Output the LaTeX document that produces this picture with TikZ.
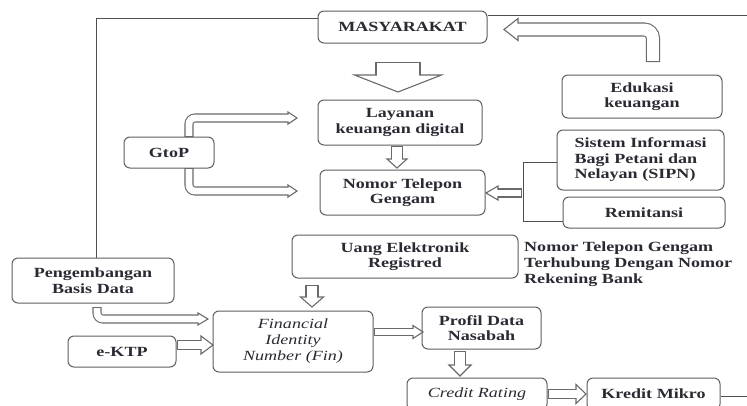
\documentclass[tikz,border=0pt]{standalone}
\usepackage{fontspec}
\setmainfont{Liberation Serif}[FakeStretch=1.29,
  UprightFont=*, BoldFont=* Bold, ItalicFont=* Italic, BoldItalicFont=* Bold Italic]
\usetikzlibrary{calc}
\definecolor{bordc}{HTML}{5F5F5F}
\definecolor{arrc}{HTML}{6A6A6A}
\definecolor{linec}{HTML}{505050}
\definecolor{txtc}{HTML}{2A2A33}
\newcommand{\harrow}[6]{%
  \pgfmathsetmacro\harO{#4+1.1}%
  \pgfmathsetmacro\harI{#4-1.1}%
  \filldraw[fill=white,draw=arrc,line width=1.1pt,line join=miter] ($#2!#5pt!90:#3$) -- #3 -- ($#2!#5pt!-90:#3$) -- cycle;
  \draw[arrc,line width=\harO pt,rounded corners=#6pt] #1;
  \draw[white,line width=\harI pt,rounded corners=#6pt,shorten <=1.1pt,shorten >=-1.6pt] #1;
}
\tikzset{
  box/.style={draw=bordc, line width=1pt, rounded corners=6pt, align=center, inner sep=0pt,
    text=txtc, font=\fontsize{14}{15.5}\selectfont\bfseries},
  itbox/.style={box, font=\fontsize{14}{16}\selectfont\mdseries\itshape},
  conn/.style={draw=linec, line width=1pt}
}
\begin{document}
\begin{tikzpicture}[x=1pt,y=-1pt]
\useasboundingbox (0,0) rectangle (747,405);
\clip (0,0) rectangle (747,405);
\fill[white] (0,0) rectangle (747,405);

% boxes
\node[box, minimum width=169pt, minimum height=32pt] (masy) at (402.5,27) {MASYARAKAT};
\node[box, minimum width=164pt, minimum height=45pt] (layanan) at (400,122.5) {Layanan\\keuangan digital};
\node[box, minimum width=90pt, minimum height=31pt] (gtop) at (169,152.5) {GtoP};
\node[box, minimum width=165pt, minimum height=45pt] (nomor) at (402.5,192.5) {Nomor Telepon\\Gengam};
\node[box, minimum width=160pt, minimum height=43pt] (edukasi) at (642,96.5) {Edukasi\\keuangan};
\node[box, minimum width=167pt, minimum height=60pt, text width=132pt, align=left] (sipn) at (640.5,160)
  {\makebox[132pt][s]{Sistem Informasi}\\\makebox[132pt][s]{Bagi Petani dan}\\Nelayan (SIPN)};
\node[box, minimum width=162pt, minimum height=31pt] (remit) at (644,212.5) {Remitansi};
\node[box, minimum width=226pt, minimum height=43pt] (uang) at (405,256.5) {Uang Elektronik\\Registred};
\node[anchor=north west, align=left, inner sep=0pt, text=txtc, font=\fontsize{14}{16}\selectfont\bfseries] (note) at (524,242)
  {Nomor Telepon Gengam\\Terhubung Dengan Nomor\\Rekening Bank};
\node[box, minimum width=162pt, minimum height=45pt] (peng) at (93,280.5) {Pengembangan\\Basis Data};
\node[itbox, minimum width=160pt, minimum height=61pt] (fin) at (293,341.5) {Financial\\Identity\\Number (Fin)};
\node[box, minimum width=108pt, minimum height=31pt] (ektp) at (122,351.5) {e-KTP};
\node[box, minimum width=119pt, minimum height=42pt] (profil) at (481.5,328) {Profil Data\\Nasabah};
\node[itbox, minimum width=140pt, minimum height=32pt] (credit) at (477,394) {Credit Rating};
\node[box, minimum width=133pt, minimum height=32pt] (kredit) at (653.5,394) {Kredit Mikro};

% plain connectors
\coordinate (tl) at (96,18);
\coordinate (re) at (750,15);
\coordinate (ke) at (750,396);
\coordinate (b1) at (523,162);
\coordinate (b2) at (523,221);
\draw[conn] ([yshift=9pt]masy.west) -- (tl) -- (tl |- peng.north);
\draw[conn] ([yshift=12pt]masy.east) -- (re);
\draw[conn] (kredit.east |- ke) -- (ke);
\draw[conn] (sipn.west |- b1) -- (b1) -- (b2) -- (remit.west |- b2);

% hollow arrows
\harrow{(398,62) -- (398,75)}{(398,75)}{(398,92)}{44}{43.5}{1}
\harrow{(653,62) -- (653,29.5) -- (518,29.5)}{(518,29.5)}{(504,29.5)}{13}{11}{9}
\harrow{(189,137) -- (189,118) -- (288,118)}{(288,118)}{(297,118)}{8}{6}{6}
\harrow{(189,168) -- (189,191) -- (288,191)}{(288,191)}{(297,191)}{8}{6}{6}
\harrow{(397,146) -- (397,159)}{(397,159)}{(397,168)}{11}{10}{1}
\harrow{(522,193) -- (498,193)}{(498,193)}{(486,193)}{8}{7}{1}
\harrow{(312,285) -- (312,297)}{(312,297)}{(312,307)}{12}{11.5}{1}
\harrow{(97,307) -- (97,319) -- (198,319)}{(198,319)}{(208,319)}{8}{6}{6}
\harrow{(177,345) -- (201,345)}{(201,345)}{(213,345)}{9}{9}{1}
\harrow{(374,332) -- (413,332)}{(413,332)}{(423,332)}{7}{6.5}{1}
\harrow{(460,351) -- (460,365)}{(460,365)}{(460,376)}{11}{11}{1}
\harrow{(548,394) -- (576,394)}{(576,394)}{(586,394)}{9}{9.5}{1}
\end{tikzpicture}
\end{document}
